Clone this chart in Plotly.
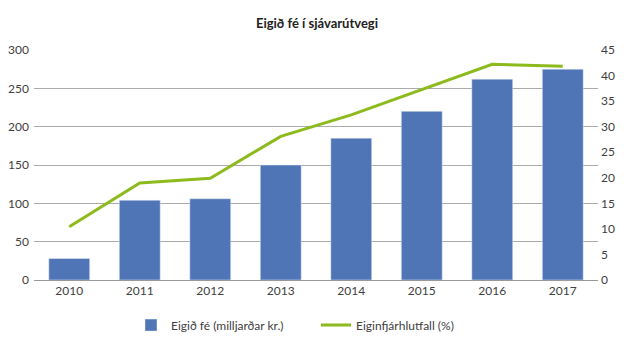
import plotly.graph_objects as go

years = ["2010", "2011", "2012", "2013", "2014", "2015", "2016", "2017"]
eigid_fe = [28, 104, 106, 150, 185, 220, 262, 275]
eiginfjarhlutfall = [10.4, 19.0, 19.9, 28.1, 32.3, 37.2, 42.2, 41.8]

fig = go.Figure()
fig.add_trace(go.Bar(x=years, y=eigid_fe, name="Eigið fé (milljarðar kr.)",
                     marker=dict(color="#4F75B6"), yaxis="y"))
fig.add_trace(go.Scatter(x=years, y=eiginfjarhlutfall, name="Eiginfjárhlutfall (%)",
                         mode="lines", line=dict(color="#8DBA1C", width=3), yaxis="y2"))

font = "Lato, Open Sans, sans-serif"
# page body has an 8px margin, so the figure is offset by (8, 8)
fig.update_layout(
    width=618, height=352,
    margin=dict(l=26, r=28, t=42, b=80, autoexpand=False),
    paper_bgcolor="white", plot_bgcolor="white",
    title=dict(text="<b>Eigið fé í sjávarútvegi</b>", x=0.5, xanchor="center",
               y=0.955, yanchor="middle", font=dict(family=font, size=13, color="#222")),
    bargap=0.42,
    showlegend=True,
    legend=dict(orientation="h", x=0.5, xanchor="center", y=-0.196, yanchor="middle",
                font=dict(family=font, size=12, color="#404040"), itemwidth=30,
                entrywidth=140),
    xaxis=dict(type="category", showgrid=False, showline=True, linecolor="#999",
               ticks="", automargin=False, tickfont=dict(family=font, size=12, color="#404040")),
    yaxis=dict(range=[0, 300], dtick=50, showgrid=True, gridcolor="#ABABAB",
               zeroline=False, showline=False, ticks="", automargin=False,
               tickfont=dict(family=font, size=12, color="#404040"), ticklabelstandoff=4),
    yaxis2=dict(range=[0, 45], dtick=5, overlaying="y", side="right", showgrid=False,
                zeroline=False, showline=False, ticks="", automargin=False,
                tickfont=dict(family=font, size=12, color="#404040"), ticklabelstandoff=2),
)

fig.write_html("out.html")
